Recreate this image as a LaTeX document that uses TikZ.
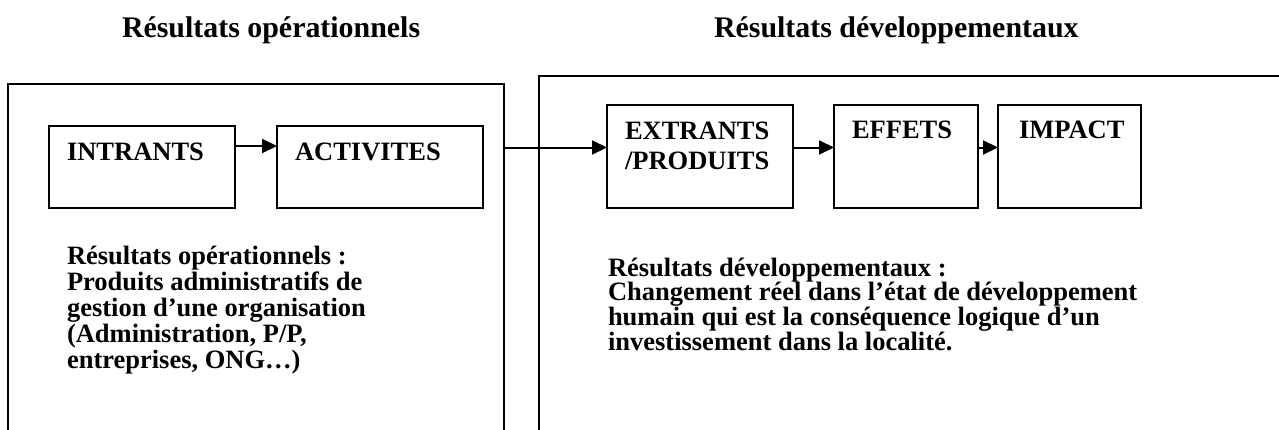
\documentclass[tikz,border=0pt]{standalone}
\usepackage{fontspec}
\setmainfont{Liberation Serif}
\usetikzlibrary{arrows.meta}
\begin{document}
\begin{tikzpicture}[x=1pt,y=-1pt,
  frame/.style={draw, line width=2pt, inner sep=0pt, outer sep=0pt},
  stepbox/.style={draw, line width=2pt, inner sep=0pt, outer sep=0pt},
  lbl/.style={anchor=base west, inner sep=0pt, outer sep=0pt, font=\bfseries\fontsize{26.5}{30.7}\selectfont},
  ttl/.style={anchor=base west, inner sep=0pt, outer sep=0pt, font=\bfseries\fontsize{29.9}{34}\selectfont},
  arr/.style={line width=2pt, -{Triangle[length=15pt,width=14pt]}}]
\clip (0,0) rectangle (1279,429);
\fill[white] (0,0) rectangle (1279,429);

% titles
\node[ttl] (t1) at (122,37) {Résultats opérationnels};
\node[ttl] (t2) at (714,37) {Résultats développementaux};

% outer frames
\node[frame, minimum width=496pt, minimum height=386pt] (opbox) at (256,277) {};
\node[frame, minimum width=781pt, minimum height=394.5pt] (devbox) at (929.5,272.75) {};

% step boxes
\node[stepbox, minimum width=186pt, minimum height=82pt] (intr) at (142,167) {};
\node[stepbox, minimum width=206pt, minimum height=82pt] (act) at (380,167) {};
\node[stepbox, minimum width=186pt, minimum height=103pt] (extr) at (700,156.5) {};
\node[stepbox, minimum width=144pt, minimum height=103pt] (eff) at (906,156.5) {};
\node[stepbox, minimum width=143pt, minimum height=103pt] (imp) at (1069.5,156.5) {};

% box texts
\node[lbl] (intrT) at (67,160) {INTRANTS};
\node[lbl] (actT) at (295,160) {ACTIVITES};
\node[lbl] (extrT) at (625,139) {\parbox[t]{170pt}{EXTRANTS\\/PRODUITS}};
\node[lbl] (effT) at (852,138.5) {EFFETS};
\node[lbl] (impT) at (1019,138.5) {IMPACT};

% descriptions
\node[lbl] (opdesc) at (67,264) {\parbox[t]{420pt}{\fontsize{26.5}{26.1}\selectfont
Résultats opérationnels :\\
Produits administratifs de\\
gestion d’une organisation\\
(Administration, P/P,\\
entreprises, ONG…)}};
\node[lbl] (devdesc) at (608,276) {\parbox[t]{620pt}{\fontsize{26.5}{24.7}\selectfont
Résultats développementaux :\\
Changement réel dans l’état de développement\\
humain qui est la conséquence logique d’un\\
investissement dans la localité.}};

% connectors
\coordinate (rowL) at (0,146);
\coordinate (rowR) at (0,147.5);
\draw[arr] (intr.east |- rowL) -- (act.west |- rowL);
\draw[arr] (opbox.east |- rowR) -- (extr.west |- rowR);
\draw[arr] (extr.east |- rowR) -- (eff.west |- rowR);
\draw[arr] (eff.east |- rowR) -- (imp.west |- rowR);
\end{tikzpicture}
\end{document}
